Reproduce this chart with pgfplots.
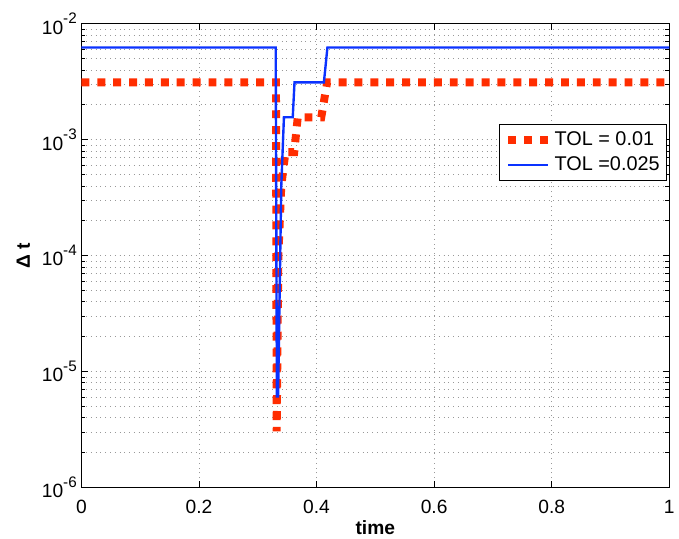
\documentclass[border=0pt]{standalone}
\usepackage{pgfplots}
\pgfplotsset{compat=1.18}
\usepackage{fontspec}
\setmainfont{Liberation Sans}
\definecolor{myred}{RGB}{255,45,0}
\definecolor{myblue}{RGB}{10,50,255}
\newcommand{\tp}[1]{10\raisebox{1.0ex}{\fontsize{11.5}{11.5}\selectfont -#1}}
\begin{document}
\begin{tikzpicture}
\begin{axis}[
  at={(0,0)}, anchor=south west,
  scale only axis, width=444pt, height=350.25pt,
  xmin=0, xmax=1, ymode=log, ymin=1e-6, ymax=1e-2,
  xtick={0,0.2,0.4,0.6,0.8,1},
  xticklabels={0,0.2,0.4,0.6,0.8,1},
  ytick={1e-6,1e-5,1e-4,1e-3,1e-2},
  yticklabels={\tp{6},\tp{5},\tp{4},\tp{3},\tp{2}},
  tick align=inside, tick pos=both,
  major tick length=5pt, minor tick length=3pt,
  tick style={black, line width=0.6pt},
  axis line style={black, line width=0.8pt},
  ticklabel style={font=\fontsize{14.5}{14.5}\selectfont},
  xticklabel style={yshift=-6pt},
  xmajorgrids, ymajorgrids, yminorgrids,
  major grid style={gray!80, line width=0.6pt, dash pattern=on 0.6pt off 3pt},
  minor grid style={gray!80, line width=0.6pt, dash pattern=on 0.6pt off 3pt},
  xlabel={\textbf{time}},
  ylabel={\textbf{Δ t}},
  label style={font=\fontsize{14.5}{14.5}\selectfont},
  xlabel style={yshift=2pt},
  ylabel style={yshift=2pt},
  legend style={at={(0.997,0.784)}, anchor=north east, draw=black, line width=0.8pt,
    font=\fontsize{15}{15}\selectfont, inner sep=3.5pt, row sep=3pt},
  legend cell align=left,
  legend image code/.code={\draw[#1] (0cm,0cm) -- (1.05cm,0cm);},
]
\addplot[myred, line width=6pt, dash pattern=on 6pt off 6pt] coordinates {
 (0,3.125e-3) (0.3310,3.125e-3) (0.3322,3.05e-6) (0.3350,1.0e-4)
 (0.3400,4.0e-4) (0.3470,7.8125e-4) (0.3620,7.8125e-4) (0.3680,1.5625e-3)
 (0.4080,1.5625e-3) (0.4180,3.125e-3) (1,3.125e-3)};
\addlegendentry{TOL = 0.01}
\addplot[myblue, line width=1.8pt] coordinates {
 (0,6.25e-3) (0.3305,6.25e-3) (0.3325,6.1e-6) (0.3345,6.1e-6) (0.3400,4.0e-4)
 (0.3445,1.5625e-3) (0.3595,1.5625e-3) (0.3625,3.125e-3)
 (0.4125,3.125e-3) (0.4185,6.25e-3) (1,6.25e-3)};
\addlegendentry{TOL =0.025}
\end{axis}
\useasboundingbox (-61.5pt,-35.25pt) rectangle (447.75pt,368.25pt);
\end{tikzpicture}
\end{document}
